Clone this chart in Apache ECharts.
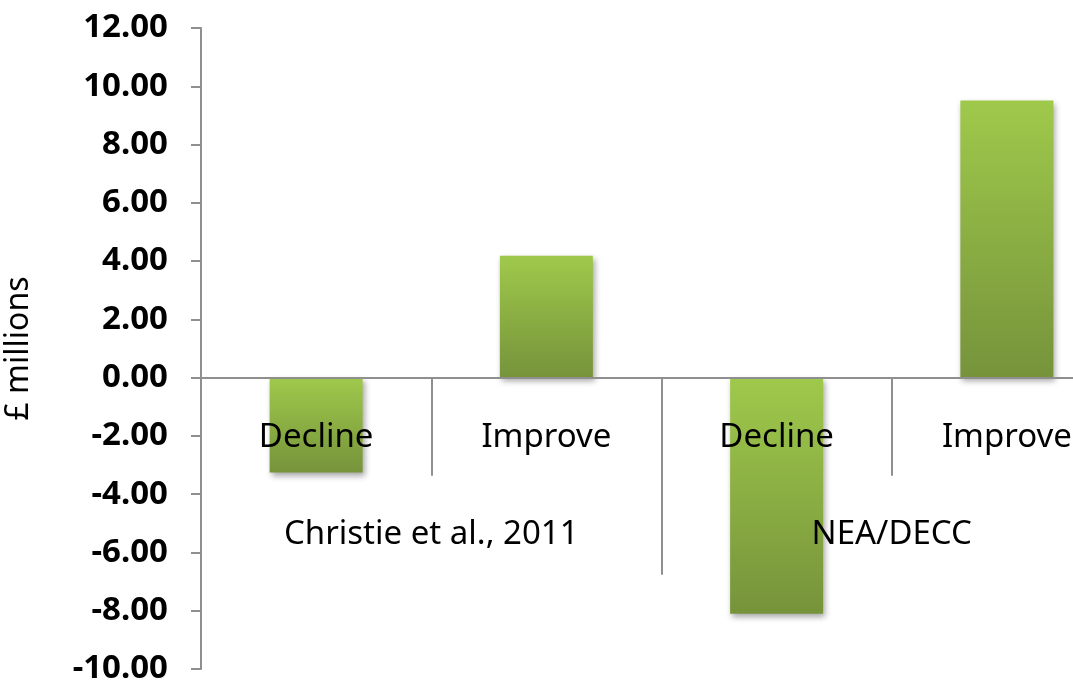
<!DOCTYPE html>
<html>
<head>
<meta charset="utf-8">
<script src="https://cdn.jsdelivr.net/npm/echarts@6/dist/echarts.min.js"></script>
<style>
  html, body { margin: 0; padding: 0; background: #fff; }
  #chart { width: 1073px; height: 683px; }
</style>
</head>
<body>
<div id="chart"></div>
<script>
// categories (inner level) and groups (outer level)
const categories = ["Decline", "Improve", "Decline", "Improve"];
const groups = ["Christie et al., 2011", "NEA/DECC"];
// £ millions
const values = [-3.26, 4.18, -8.1, 9.51];

const axisGray = "#8f8f8f";
const fontFamily = "Noto Sans";

const chart = echarts.init(document.getElementById("chart"));

const option = {
  backgroundColor: "#ffffff",
  animation: false,
  grid: {
    left: 201,
    top: 28,
    bottom: 14,
    width: 921,
    containLabel: false,
    outerBoundsMode: "none",
  },
  xAxis: [
    {
      type: "category",
      data: categories,
      position: "bottom",
      axisLine: {
        onZero: true,
        onZeroAxisIndex: 0,
        lineStyle: { color: axisGray, width: 2 },
      },
      axisTick: {
        show: true,
        length: 98,
        lineStyle: { color: axisGray, width: 2 },
      },
      // labels are placed from the grid bottom, hence the negative margins
      axisLabel: {
        margin: -248,
        color: "#000",
        fontSize: 33,
        fontFamily: fontFamily,
      },
      splitLine: { show: false },
      z: 5,
    },
    {
      type: "category",
      data: groups,
      position: "bottom",
      axisLine: {
        onZero: true,
        onZeroAxisIndex: 0,
        show: true,
        lineStyle: { color: axisGray, width: 2 },
      },
      axisTick: {
        show: true,
        length: 197,
        lineStyle: { color: axisGray, width: 2 },
      },
      axisLabel: {
        margin: -151,
        color: "#000",
        fontSize: 33,
        fontFamily: fontFamily,
      },
      splitLine: { show: false },
      z: 5,
    },
  ],
  yAxis: {
    type: "value",
    min: -10,
    max: 12,
    interval: 2,
    name: "£ millions",
    nameLocation: "middle",
    nameRotate: 90,
    nameGap: 166,
    nameTextStyle: {
      color: "#000",
      fontSize: 32,
      fontFamily: fontFamily,
    },
    axisLine: { show: true, lineStyle: { color: axisGray, width: 2 } },
    axisTick: {
      show: true,
      length: 10,
      lineStyle: { color: axisGray, width: 2 },
    },
    axisLabel: {
      margin: 33,
      color: "#000",
      fontSize: 33,
      fontWeight: "bold",
      fontFamily: fontFamily,
      formatter: (v) => v.toFixed(2),
    },
    splitLine: { show: false },
  },
  series: [
    {
      type: "bar",
      xAxisIndex: 0,
      data: values,
      barWidth: 93,
      itemStyle: {
        color: new echarts.graphic.LinearGradient(0, 0, 0, 1, [
          { offset: 0, color: "#9fc94b" },
          { offset: 1, color: "#76933b" },
        ]),
        shadowColor: "rgba(0,0,0,0.35)",
        shadowBlur: 6,
        shadowOffsetX: 2,
        shadowOffsetY: 3,
      },
      z: 1,
    },
  ],
};

chart.setOption(option);
</script>
</body>
</html>
